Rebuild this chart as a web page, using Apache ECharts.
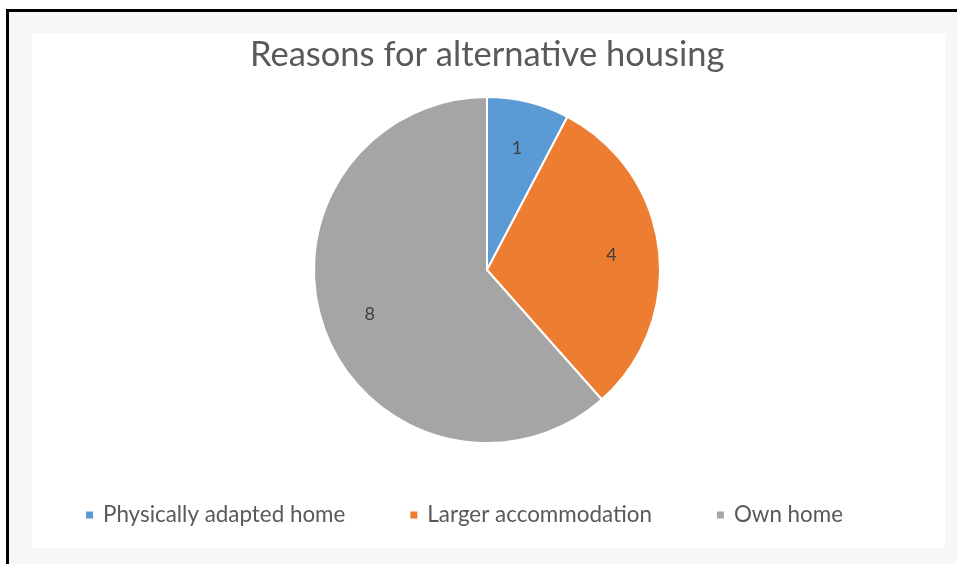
<!DOCTYPE html>
<html>
<head>
<meta charset="utf-8">
<script src="https://cdn.jsdelivr.net/npm/echarts@6/dist/echarts.min.js"></script>
<style>
  html, body { margin: 0; padding: 0; background: #ffffff; }
  #frame { position: absolute; left: 6px; top: 9px; width: 960px; height: 570px; border: 3px solid #000; background: #f7f7f7; box-sizing: border-box; }
  #inner { position: absolute; left: 32px; top: 33px; width: 913px; height: 515px; background: #ffffff; }
  #chart { position: absolute; left: 0; top: 0; width: 957px; height: 564px; }
</style>
</head>
<body>
<div id="frame"></div>
<div id="inner"></div>
<div id="chart"></div>
<script>
const titleText = 'Reasons for alternative housing';
const categories = ['Physically adapted home', 'Larger accommodation', 'Own home'];
const values = [1, 4, 8];
const colors = ['#5B9BD5', '#ED7D31', '#A5A5A5'];

const CX = 487, CY = 270, R = 173;
const chart = echarts.init(document.getElementById('chart'), null, { renderer: 'canvas' });
chart.setOption({
  backgroundColor: 'transparent',
  animation: false,
  title: {
    text: titleText,
    left: 245,
    top: 32,
    textStyle: { fontFamily: 'Lato', fontWeight: 'normal', fontSize: 34.5, color: '#595959' }
  },
  legend: {
    bottom: 38,
    left: 84,
    padding: 0,
    icon: 'rect',
    itemWidth: 9,
    itemHeight: 9,
    itemGap: 63,
    textStyle: { fontFamily: 'Lato', fontSize: 22.4, color: '#595959', padding: [0, 0, 0, 4] },
    data: categories
  },
  series: [{
    type: 'pie',
    center: [CX, CY],
    radius: R,
    startAngle: 90,
    clockwise: true,
    data: categories.map((c, i) => ({ name: c, value: values[i], itemStyle: { color: colors[i] } })),
    itemStyle: { borderColor: '#ffffff', borderWidth: 2 },
    label: {
      show: true,
      position: 'inside',
      formatter: '{c}',
      fontFamily: 'Lato',
      fontSize: 18,
      color: '#404040'
    },
    labelLine: { show: false },
    labelLayout: function (p) {
      const lr = p.labelRect;
      const lx = lr.x + lr.width / 2, ly = lr.y + lr.height / 2;
      return { dx: (lx - CX) * 0.4, dy: (ly - CY) * 0.4 };
    },
    emphasis: { disabled: true }
  }]
});
</script>
</body>
</html>
